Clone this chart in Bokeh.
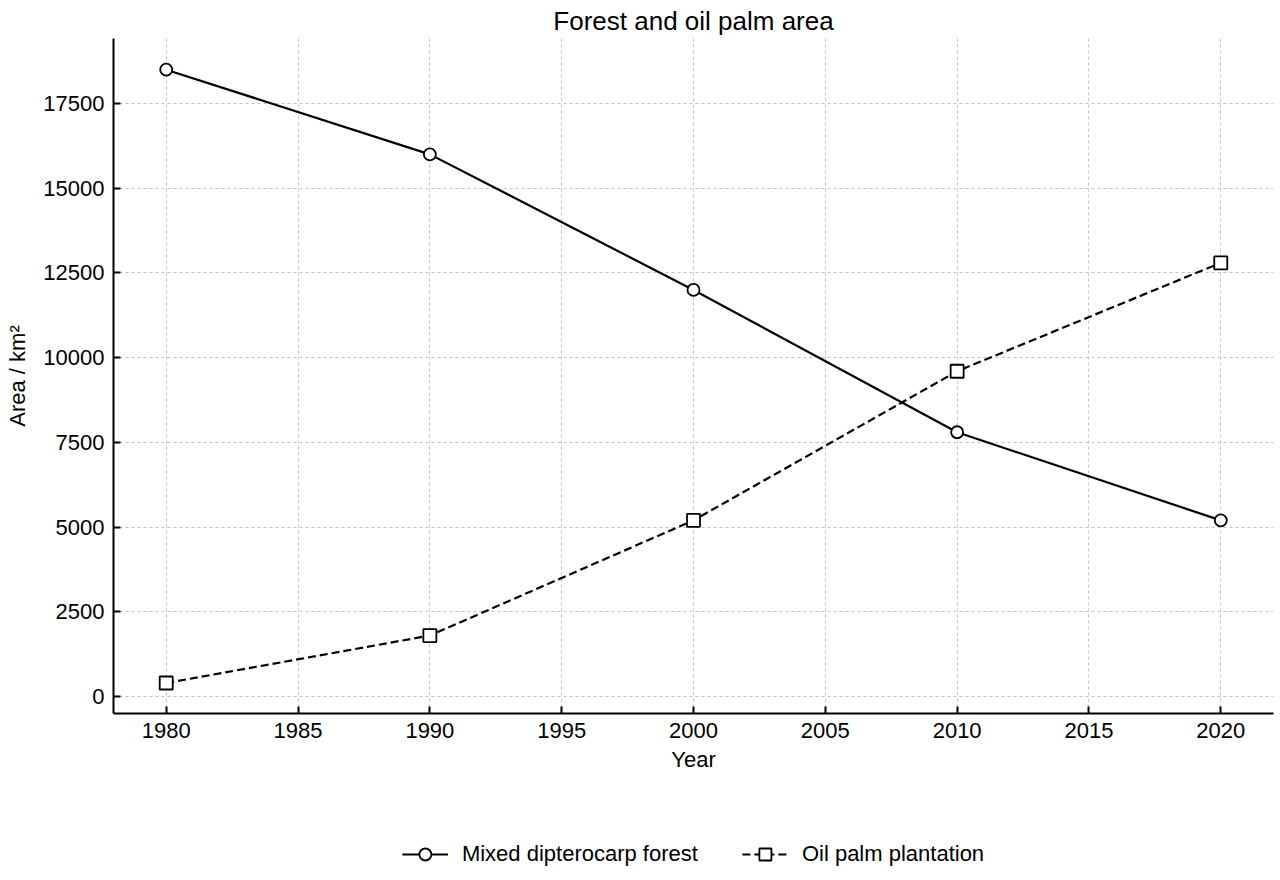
from bokeh.plotting import figure
from bokeh.layouts import column
from bokeh.models import Legend, LegendItem, SingleIntervalTicker, Range1d
from bokeh.embed import file_html
from bokeh.resources import INLINE

years = [1980, 1990, 2000, 2010, 2020]
forest_area = [18500, 16000, 12000, 7800, 5200]
palm_area = [400, 1800, 5200, 9600, 12800]

FONT = "Liberation Sans"

'''main chart'''
p = figure(width=1275, height=790, output_backend="svg", toolbar_location=None,
           x_range=Range1d(1978, 2022), y_range=Range1d(-500, 19420),
           min_border_left=113, min_border_right=2, min_border_top=38,
           min_border_bottom=77)
p.outline_line_color = None

p.title.text = "Forest and oil palm area"
p.title.align = "center"
p.title.text_font = FONT
p.title.text_font_size = "26px"
p.title.text_font_style = "normal"
p.title.text_color = "black"
p.title.standoff = 6

p.line(years, forest_area, line_color="black", line_width=2.2)
p.scatter(years, forest_area, marker="circle", size=12, fill_color="white",
          line_color="black", line_width=1.8)
p.line(years, palm_area, line_color="black", line_width=2.2, line_dash="8 4")
p.scatter(years, palm_area, marker="square", size=13, fill_color="white",
          line_color="black", line_width=1.8)

p.xaxis.ticker = SingleIntervalTicker(interval=5)
p.yaxis.ticker = SingleIntervalTicker(interval=2500)
p.xaxis.axis_label = "Year"
p.yaxis.axis_label = "Area / km²"
for ax in (p.xaxis, p.yaxis):
    ax.axis_line_width = 2
    ax.axis_line_color = "black"
    ax.major_tick_in = 7
    ax.major_tick_out = 0
    ax.major_tick_line_width = 2
    ax.minor_tick_line_color = None
    ax.major_label_text_font = FONT
    ax.major_label_text_font_size = "22px"
    ax.major_label_text_color = "black"
    ax.axis_label_text_font = FONT
    ax.axis_label_text_font_size = "22px"
    ax.axis_label_text_font_style = "normal"
    ax.axis_label_text_color = "black"
p.xaxis.axis_label_standoff = 6
p.yaxis.axis_label_standoff = 10

p.grid.grid_line_color = "#b4b4b4"
p.grid.grid_line_dash = "3 3"
p.grid.grid_line_width = 0.8

'''legend strip under the chart (its series sit outside its 0..1 ranges)'''
lg = figure(width=1275, height=88, output_backend="svg", toolbar_location=None,
            x_range=Range1d(0, 1), y_range=Range1d(0, 1),
            min_border_left=113, min_border_right=2, min_border_top=0,
            min_border_bottom=0)
lg.axis.visible = False
lg.grid.visible = False
lg.outline_line_color = None
f_line = lg.line(years, forest_area, line_color="black", line_width=2.2)
f_pts = lg.scatter(years, forest_area, marker="circle", size=12, fill_color="white",
                   line_color="black", line_width=1.8)
o_line = lg.line(years, palm_area, line_color="black", line_width=2.2, line_dash="8 4")
o_pts = lg.scatter(years, palm_area, marker="square", size=13, fill_color="white",
                   line_color="black", line_width=1.8)

legend = Legend(items=[
    LegendItem(label="Mixed dipterocarp forest", renderers=[f_line, f_pts]),
    LegendItem(label="Oil palm plantation", renderers=[o_line, o_pts]),
], orientation="horizontal", location="bottom_center")
legend.border_line_color = None
legend.background_fill_alpha = 0
legend.label_text_font = FONT
legend.label_text_font_size = "22px"
legend.label_text_color = "black"
legend.glyph_width = 46
legend.glyph_height = 30
legend.label_standoff = 14
legend.spacing = 44
legend.margin = 9
lg.add_layout(legend)

open("out.html", "w").write(file_html(column(p, lg), INLINE))
